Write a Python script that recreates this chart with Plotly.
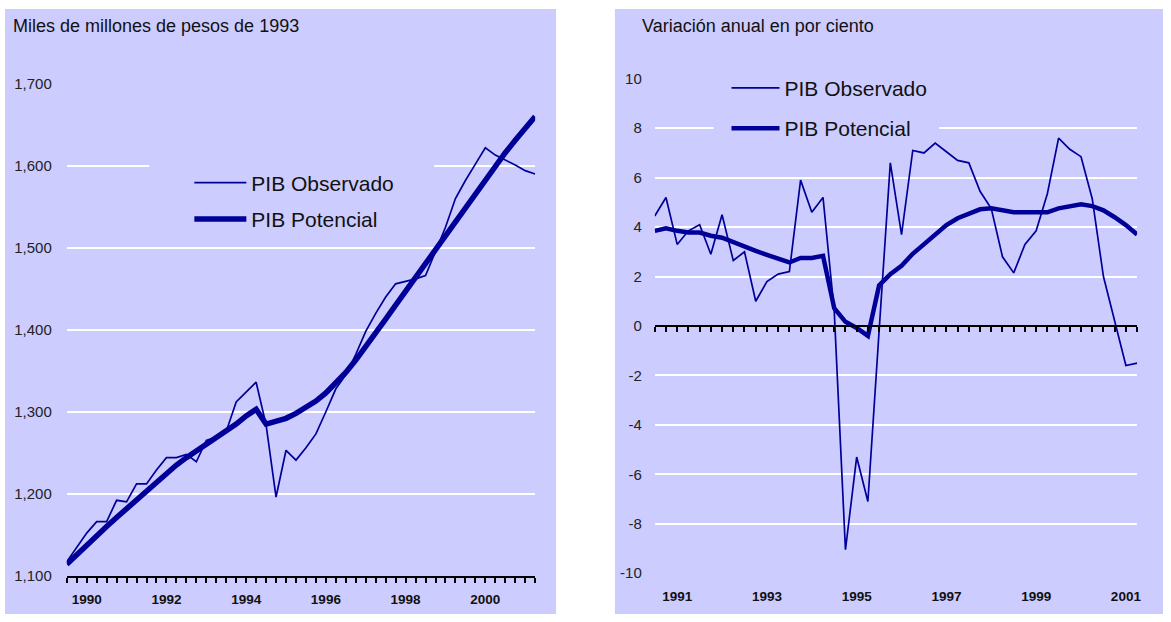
import plotly.graph_objects as go

W, H = 1171, 622
BG = "#CCCCFF"
NAVY = "#000099"
FONT = "Liberation Sans, Arial, Helvetica, sans-serif"

# ---------------- data ----------------
level_years = list(range(1990, 2002))      # quarterly, 1990Q1 - 2001Q4
growth_years = list(range(1991, 2002))     # quarterly, 1991Q1 - 2001Q4

# Miles de millones de pesos de 1993
level_obs = [1117, 1135, 1152, 1166,
             1166, 1192, 1190, 1212,
             1212, 1229, 1244, 1244,
             1248, 1239, 1265, 1269,
             1276, 1312, 1324, 1336,
             1284, 1196, 1253, 1241,
             1256, 1273, 1300, 1328,
             1345, 1370, 1398, 1420,
             1440, 1456, 1459, 1462,
             1466, 1496, 1525, 1560,
             1582, 1602, 1622, 1613,
             1607, 1601, 1594, 1590]
level_pot = [1114, 1126, 1138, 1149,
             1160, 1171, 1182, 1193,
             1204, 1215, 1225, 1235,
             1244, 1252, 1260, 1268,
             1276, 1285, 1295, 1303,
             1285, 1288, 1292, 1298,
             1305, 1313, 1323, 1335,
             1348, 1363, 1379, 1396,
             1413, 1430, 1447, 1464,
             1481, 1498, 1515, 1532,
             1549, 1566, 1583, 1600,
             1616, 1631, 1646, 1660]

# Variación anual en por ciento
growth_obs = [4.45, 5.2, 3.3, 3.85,
              4.1, 2.9, 4.5, 2.65,
              3.0, 1.0, 1.8, 2.1,
              2.2, 5.9, 4.6, 5.2,
              0.6, -9.05, -5.3, -7.1,
              -0.2, 6.6, 3.7, 7.1,
              7.0, 7.4, 7.05, 6.7,
              6.6, 5.45, 4.75, 2.8,
              2.15, 3.3, 3.85, 5.35,
              7.6, 7.15, 6.85, 5.15,
              2.0, 0.2, -1.6, -1.5]
growth_pot = [3.85, 3.95, 3.85, 3.78,
              3.78, 3.65, 3.57, 3.38,
              3.2, 3.04, 2.88, 2.72,
              2.57, 2.75, 2.75, 2.84,
              0.72, 0.17, -0.08, -0.4,
              1.64, 2.1, 2.44, 2.92,
              3.32, 3.72, 4.08, 4.36,
              4.56, 4.72, 4.76, 4.68,
              4.6, 4.6, 4.6, 4.6,
              4.76, 4.85, 4.92, 4.85,
              4.68, 4.4, 4.08, 3.7]

left_ticks = [1990, 1992, 1994, 1996, 1998, 2000]
right_ticks = [1991, 1993, 1995, 1997, 1999, 2001]
left_y_ticks = [1100, 1200, 1300, 1400, 1500, 1600, 1700]
right_y_ticks = [-10, -8, -6, -4, -2, 0, 2, 4, 6, 8, 10]

x_left = [y + q / 4 for y in level_years for q in range(4)]
x_right = [y + q / 4 for y in growth_years for q in range(4)]


def px(xp):
    return xp / W


# vertical placement: compensate for the vertical offset/scale seen in the capture
V_OFF, V_SCALE = 8.0, 0.9757


def py(yp):
    v = 1 - ((yp - V_OFF) / V_SCALE) / H
    return min(1.0, max(0.0, v))


fig = go.Figure()
fig.add_trace(go.Scatter(x=x_left, y=level_obs, mode="lines", name="PIB Observado",
                         line=dict(color=NAVY, width=1.7), xaxis="x", yaxis="y",
                         legend="legend", legendgroup="a"))
fig.add_trace(go.Scatter(x=x_left, y=level_pot, mode="lines", name="PIB Potencial",
                         line=dict(color=NAVY, width=5.5), xaxis="x", yaxis="y",
                         legend="legend", legendgroup="b"))
fig.add_trace(go.Scatter(x=x_right, y=growth_obs, mode="lines", name="PIB Observado",
                         line=dict(color=NAVY, width=1.7), xaxis="x2", yaxis="y2",
                         legend="legend2", legendgroup="c"))
fig.add_trace(go.Scatter(x=x_right, y=growth_pot, mode="lines", name="PIB Potencial",
                         line=dict(color=NAVY, width=4.5), xaxis="x2", yaxis="y2",
                         legend="legend2", legendgroup="d"))
# empty trace so the zero-line axis is drawn
fig.add_trace(go.Scatter(x=[], y=[], xaxis="x3", yaxis="y2", showlegend=False,
                         hoverinfo="skip"))

tickfont_x = dict(family=FONT, size=13.5, color="#111111", weight="bold")
tickfont_y = dict(family=FONT, size=15, color="#222222")

left_dom_x = [px(67), px(537)]
left_dom_y = [py(576.5), py(83)]
right_dom_x = [px(657), px(1141)]
right_dom_y = [py(574), py(78)]

fig.update_layout(
    width=W, height=H,
    margin=dict(l=0, r=0, t=0, b=0),
    paper_bgcolor="white",
    plot_bgcolor="rgba(0,0,0,0)",
    font=dict(family=FONT, color="#111111"),
    xaxis=dict(domain=left_dom_x, range=[1990, 2001.75], anchor="y",
               showgrid=False, zeroline=False,
               showline=True, linecolor="black", linewidth=2,
               ticks="outside", ticklen=5, tickwidth=2, tickcolor="black",
               tickvals=[t + 0.5 for t in left_ticks], ticktext=[str(t) for t in left_ticks],
               tickfont=tickfont_x, ticklabelstandoff=5,
               minor=dict(tick0=1990, dtick=0.25, ticks="outside", ticklen=5,
                          tickwidth=2, tickcolor="black", showgrid=False)),
    yaxis=dict(domain=left_dom_y, range=[1100, 1700], anchor="x",
               tickvals=left_y_ticks, ticktext=[f"{v:,}" for v in left_y_ticks],
               showgrid=True, gridcolor="white", gridwidth=2,
               zeroline=False, showline=False, ticks="",
               tickfont=tickfont_y, ticklabelstandoff=14),
    xaxis2=dict(domain=right_dom_x, range=[1991, 2001.75], anchor="y2",
                showgrid=False, zeroline=False, showline=False, ticks="",
                tickvals=[t + 0.5 for t in right_ticks], ticktext=[str(t) for t in right_ticks],
                tickfont=tickfont_x, ticklabelstandoff=13),
    xaxis3=dict(overlaying="x2", matches="x2", anchor="free",
                position=(right_dom_y[0] + right_dom_y[1]) / 2,
                showgrid=False, zeroline=False,
                showline=True, linecolor="black", linewidth=2,
                ticks="outside", ticklen=5, tickwidth=2, tickcolor="black",
                tick0=1991, dtick=0.25, showticklabels=False),
    yaxis2=dict(domain=right_dom_y, range=[-10, 10], anchor="x2",
                tickvals=right_y_ticks, ticktext=[str(v) for v in right_y_ticks],
                showgrid=True, gridcolor="white", gridwidth=2,
                zeroline=False, showline=False, ticks="",
                tickfont=tickfont_y, ticklabelstandoff=12),
    legend=dict(x=px(190), y=py(162), xanchor="left", yanchor="top",
                bgcolor="rgba(0,0,0,0)", borderwidth=0,
                font=dict(family=FONT, size=21, color="#111111"),
                traceorder="grouped", tracegroupgap=6, itemwidth=52),
    legend2=dict(x=px(729), y=py(67), xanchor="left", yanchor="top",
                 bgcolor="rgba(0,0,0,0)", borderwidth=0,
                 font=dict(family=FONT, size=21, color="#111111"),
                 traceorder="grouped", tracegroupgap=10, itemwidth=48),
    showlegend=True,
    shapes=[
        dict(type="rect", xref="paper", yref="paper", layer="below",
             x0=px(5), x1=px(558), y0=py(618), y1=py(4),
             fillcolor=BG, line=dict(width=0)),
        dict(type="rect", xref="paper", yref="paper", layer="below",
             x0=px(617), x1=px(1167), y0=py(618), y1=py(4),
             fillcolor=BG, line=dict(width=0)),
        # legend backgrounds hiding the gridlines
        dict(type="rect", xref="x", yref="y", layer="between",
             x0=1992.07, x1=1999.22, y0=1520, y1=1632,
             fillcolor=BG, line=dict(width=0)),
        dict(type="rect", xref="x2", yref="y2", layer="between",
             x0=1992.31, x1=1997.34, y0=7.4, y1=10.6,
             fillcolor=BG, line=dict(width=0)),
    ],
    annotations=[
        dict(text="Miles de millones de pesos de 1993", xref="paper", yref="paper",
             x=px(11), y=py(25), xanchor="left", yanchor="middle", showarrow=False,
             font=dict(family=FONT, size=18, color="#111111")),
        dict(text="Variación anual en por ciento", xref="paper", yref="paper",
             x=px(642), y=py(25), xanchor="left", yanchor="middle", showarrow=False,
             font=dict(family=FONT, size=18, color="#111111")),
    ],
)

fig.write_html(
    "out.html",
    config={"displayModeBar": False, "staticPlot": True},
    post_script=(
        "document.documentElement.style.margin='0px';"
        "document.documentElement.style.padding='0px';"
        "document.documentElement.style.overflow='hidden';"
        "document.documentElement.style.height='622px';"
        "document.body.style.margin='0px';"
        "document.body.style.padding='0px';"
        "document.body.style.overflow='hidden';"
        "document.body.style.height='622px';"
        "var gd=document.getElementById('{plot_id}');"
        "gd.style.position='absolute';gd.style.left='0px';gd.style.top='0px';"
    ),
)
